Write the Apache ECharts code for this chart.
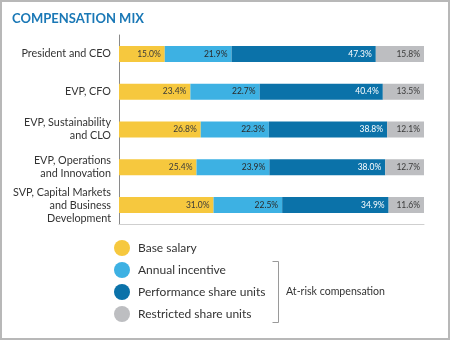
<!DOCTYPE html>
<html><head><meta charset="utf-8">
<script src="https://cdn.jsdelivr.net/npm/echarts@6/dist/echarts.min.js"></script>
<style>html,body{margin:0;padding:0;background:#fff}#c{width:450px;height:340px}</style>
</head><body><div id="c"></div>
<script>
const categories = ['President and CEO', 'EVP, CFO', 'EVP, Sustainability\nand CLO', 'EVP, Operations\nand Innovation', 'SVP, Capital Markets\nand Business\nDevelopment'];
const baseSalary = [15.0, 23.4, 26.8, 25.4, 31.0];
const annualIncentive = [21.9, 22.7, 22.3, 23.9, 22.5];
const performanceShareUnits = [47.3, 40.4, 38.8, 38.0, 34.9];
const restrictedShareUnits = [15.8, 13.5, 12.1, 12.7, 11.6];
const seriesNames = ['Base salary', 'Annual incentive', 'Performance share units', 'Restricted share units'];
const colors = ['#f6c83e', '#3db1e3', '#0b72a9', '#bdbec1'];
const labelColors = ['#3a3a3a', '#2a2a2a', '#ffffff', '#3a3a3a'];
const FONT = 'Lato';

const chart = echarts.init(document.getElementById('c'), null, {renderer: 'canvas'});
const datas = [baseSalary, annualIncentive, performanceShareUnits, restrictedShareUnits];
const series = datas.map((d, i) => ({
  name: seriesNames[i], type: 'bar', stack: 'total', data: d, barWidth: 16,
  itemStyle: {color: colors[i]},
  label: {show: true, position: 'insideRight', distance: 4, color: labelColors[i], fontSize: 8.5, fontFamily: FONT,
    formatter: p => p.value.toFixed(1) + '%'},
  emphasis: {disabled: true}, animation: false
}));
chart.setOption({
  animation: false,
  title: {text: 'COMPENSATION MIX', left: 12, top: 12, padding: 0, textStyle: {color: '#1a78b6', fontSize: 13, fontWeight: 'bold', fontFamily: FONT}},
  grid: {left: 119, top: 35, width: 305, height: 189, containLabel: false},
  xAxis: {type: 'value', min: 0, max: 100, show: true, axisLabel: {show: false}, splitLine: {show: false}, axisTick: {show: false},
    axisLine: {show: true, lineStyle: {color: '#cfcfcf', width: 1}}},
  yAxis: {type: 'category', data: categories, inverse: true, axisTick: {show: false},
    axisLine: {show: true, lineStyle: {color: '#8a8a8a', width: 1}},
    axisLabel: {color: '#333', fontSize: 10.8, fontFamily: FONT, margin: 8, lineHeight: 13, align: 'right'}},
  legend: {orient: 'vertical', left: 114, top: 240, padding: 0, itemWidth: 16, itemHeight: 16, itemGap: 6, icon: 'circle',
    data: seriesNames, selectedMode: false,
    textStyle: {color: '#333', fontSize: 12, lineHeight: 16, fontFamily: FONT, padding: [0, 0, 0, 3]}},
  graphic: [
    {type: 'rect', shape: {x: 1, y: 1, width: 448, height: 338}, style: {fill: 'none', stroke: '#b8b8b8', lineWidth: 2}, silent: true},
    {type: 'polyline', shape: {points: [[272.5, 261.5], [278.5, 261.5], [278.5, 322.5], [272.5, 322.5]]}, style: {fill: 'none', stroke: '#9a9a9a', lineWidth: 1}, silent: true},
    {type: 'text', x: 286, y: 292, style: {text: 'At-risk compensation', fill: '#333', font: '10.6px ' + FONT, textVerticalAlign: 'middle'}, silent: true}
  ],
  series: series
});
</script></body></html>
